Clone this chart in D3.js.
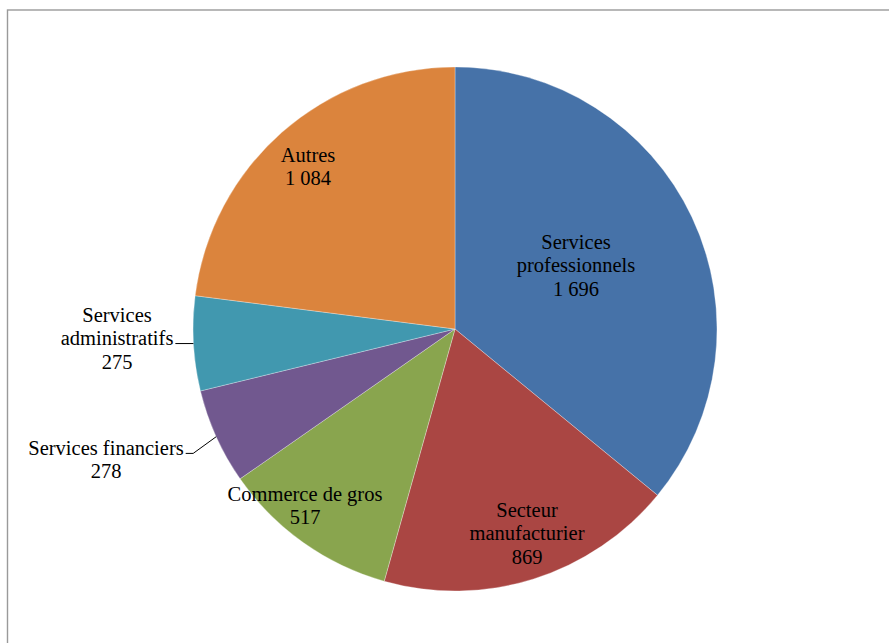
<!DOCTYPE html>
<html>
<head>
<meta charset="utf-8">
<script src="https://cdn.jsdelivr.net/npm/d3@7"></script>
<style>
  html, body { margin: 0; padding: 0; background: #fff; }
  svg { display: block; }
</style>
</head>
<body>
<svg id="chart" width="889" height="643"></svg>
<script>
// ---- Data ----
const categories = ["Services professionnels", "Secteur manufacturier", "Commerce de gros", "Services financiers", "Services administratifs", "Autres"];
const values = [1696, 869, 517, 278, 275, 1084];
const valueLabels = ["1 696", "869", "517", "278", "275", "1 084"];
const labelLines = [
  ["Services", "professionnels"],
  ["Secteur", "manufacturier"],
  ["Commerce de gros"],
  ["Services financiers"],
  ["Services", "administratifs"],
  ["Autres"]
];
const colors = ["#4672a8", "#aa4643", "#89a54e", "#71588f", "#4198af", "#db843d"];

// label layout (offset of first baseline relative to pie centre), leader line index (-1 = none)
const labelOffsets = [[121, -80], [72, 188], [-150, 172], [-349, 126], [-338, -7], [-147, -167]];
const leaderLine = [-1, -1, -1, 0, 1, -1];

// ---- Layout ----
const cx = 455, cy = 329, R = 262;
const lineH = 23.4;

const svg = d3.select("#chart");

// frame (partly cut off on right/bottom)
svg.append("rect")
  .attr("x", 7.5).attr("y", 10)
  .attr("width", 1000).attr("height", 1000)
  .attr("fill", "none")
  .attr("stroke", "#9a9a9a")
  .attr("stroke-width", 1.4);

const pie = d3.pie().value(d => d).sort(null);
const arcs = pie(values);
const arc = d3.arc().innerRadius(0).outerRadius(R);

const g = svg.append("g").attr("transform", `translate(${cx},${cy})`);

g.selectAll("path.slice")
  .data(arcs)
  .join("path")
  .attr("class", "slice")
  .attr("d", arc)
  .attr("fill", (d, i) => colors[i])
  .attr("stroke", "#ffffff")
  .attr("stroke-opacity", 0.5)
  .attr("stroke-width", 0.6);

// labels
arcs.forEach((a, i) => {
  const lines = labelLines[i].concat([valueLabels[i]]);
  const [ox, oy] = labelOffsets[i];
  const t = g.append("text")
    .style("font-family", "Liberation Serif")
    .attr("font-size", 20.5)
    .attr("fill", "#000")
    .attr("text-anchor", "middle");
  const spans = lines.map((ln, k) =>
    t.append("tspan")
      .attr("x", ox)
      .attr("y", oy + k * lineH)
      .text(ln));

  const li = leaderLine[i];
  if (li >= 0) {
    const mid = (a.startAngle + a.endAngle) / 2;
    const px = R * Math.sin(mid), py = -R * Math.cos(mid);
    const lineY = oy + li * lineH - 1.6;
    const textRight = ox + spans[li].node().getComputedTextLength() / 2 + 2;
    const elbowX = Math.min(px, textRight + 7.5);
    const pts = Math.abs(lineY - py) < 3
      ? [[textRight, py], [px, py]]
      : [[textRight, lineY], [elbowX, lineY], [px, py]];
    g.append("path")
      .attr("d", d3.line()(pts))
      .attr("fill", "none")
      .attr("stroke", "#000")
      .attr("stroke-width", 1);
  }
});
</script>
</body>
</html>
